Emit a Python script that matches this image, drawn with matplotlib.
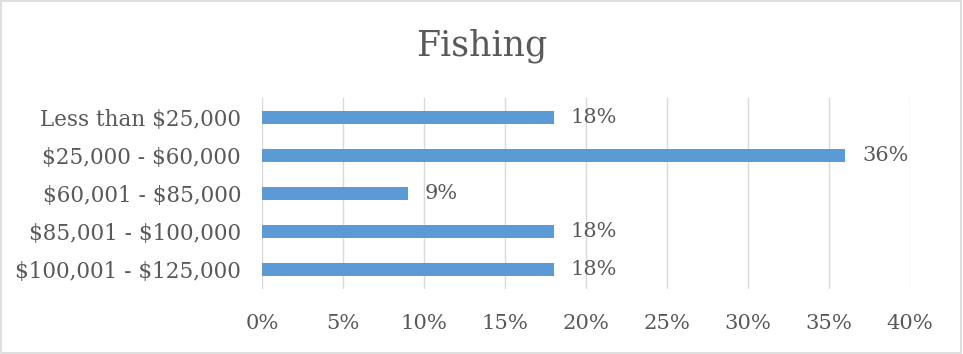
import matplotlib
matplotlib.use("Agg")
import matplotlib.pyplot as plt
from matplotlib.patches import Rectangle

categories = ["Less than $25,000", "$25,000 - $60,000", "$60,001 - $85,000",
              "$85,001 - $100,000", "$100,001 - $125,000"]
values = [18, 36, 9, 18, 18]
xticks = [0, 5, 10, 15, 20, 25, 30, 35, 40]
title = "Fishing"

plt.rcParams['font.family'] = ['DejaVu Serif']
plt.rcParams['text.parse_math'] = False
text_color = "#595959"
bar_color = "#5B9BD5"
grid_color = "#D9D9D9"

fig = plt.figure(figsize=(9.63, 3.54), dpi=100)
ax = fig.add_axes([0.272, 0.1836, 0.673, 0.5396])

y = list(range(len(categories)))
ax.barh(y, values, height=0.34, color=bar_color, zorder=3)
ax.set_ylim(len(categories) - 0.5, -0.5)
ax.set_xlim(0, 40)
ax.set_yticks(y)
ax.set_yticklabels(categories, fontsize=15.5, color=text_color)
ax.set_xticks(xticks)
ax.set_xticklabels([f"{t}%" for t in xticks], fontsize=15.2, color=text_color)
ax.tick_params(axis='y', length=0, pad=15)
ax.tick_params(axis='x', length=0, pad=18)
ax.grid(axis='x', color=grid_color, linewidth=1, zorder=0)
for s in ax.spines.values():
    s.set_visible(False)

for yi, v in zip(y, values):
    ax.annotate(f"{v}%", (v, yi), xytext=(12, 0), textcoords="offset points",
                va="center", ha="left", fontsize=15, color=text_color)

fig.text(0.5, 0.872, title, ha="center", va="center", fontsize=25, color=text_color)
fig.patches.append(Rectangle((0.001, 0.002), 0.997, 0.995, transform=fig.transFigure,
                             fill=False, edgecolor=grid_color, linewidth=1.2))
fig.savefig("out.png", dpi=100)
